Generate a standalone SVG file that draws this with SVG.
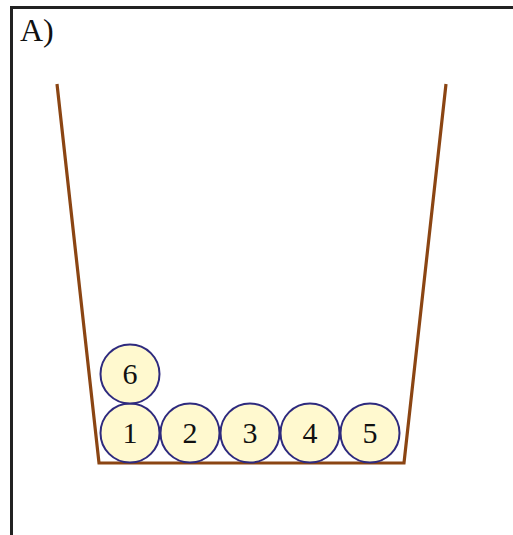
<svg xmlns="http://www.w3.org/2000/svg" width="513" height="535" viewBox="0 0 513 535">
<style>
.ball{fill:#FFF9CF;stroke:#2E2A7E;stroke-width:2}
.lbl{font-family:"Liberation Serif",serif;font-size:30px;fill:#111;text-anchor:middle}
</style>
<rect width="513" height="535" fill="#fff"/>
<g id="frame">
<path d="M11.5,535 V7.5 H513" fill="none" stroke="#222" stroke-width="3"/>
<text x="20" y="41" font-family="Liberation Serif,serif" font-size="32" fill="#111">A)</text>
</g>
<g id="container">
<path d="M57,84 L99,463 L404,463 L446,84" fill="none" stroke="#8B4513" stroke-width="3.2" stroke-linejoin="miter"/>
</g>
<g id="ball1"><circle class="ball" cx="130" cy="433" r="29.5"/><text class="lbl" x="130" y="443">1</text></g>
<g id="ball2"><circle class="ball" cx="190" cy="433" r="29.5"/><text class="lbl" x="190" y="443">2</text></g>
<g id="ball3"><circle class="ball" cx="250" cy="433" r="29.5"/><text class="lbl" x="250" y="443">3</text></g>
<g id="ball4"><circle class="ball" cx="310" cy="433" r="29.5"/><text class="lbl" x="310" y="443">4</text></g>
<g id="ball5"><circle class="ball" cx="370" cy="433" r="29.5"/><text class="lbl" x="370" y="443">5</text></g>
<g id="ball6"><circle class="ball" cx="130" cy="374" r="29.5"/><text class="lbl" x="130" y="384">6</text></g>
<g id="connectors"></g>
</svg>
